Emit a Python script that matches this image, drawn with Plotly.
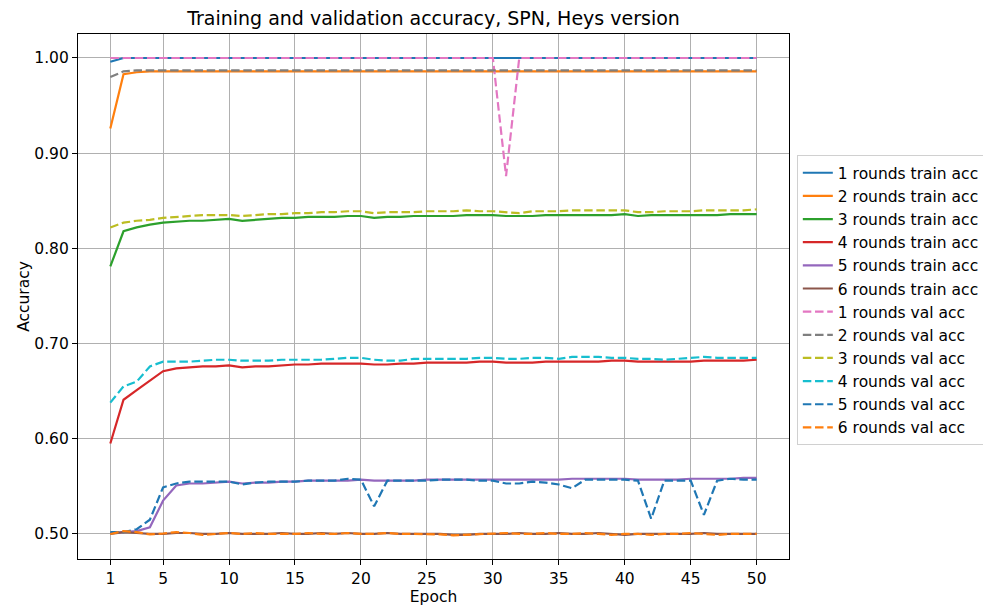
import plotly.graph_objects as go

epochs = list(range(1, 51))

train_1 = [0.996] + [1.000, 1.000, 1.000, 1.000, 1.000, 1.000, 1.000, 1.000, 1.000, 1.000,
                     1.000, 1.000, 1.000, 1.000, 1.000, 1.000, 1.000, 1.000, 1.000, 1.000,
                     1.000, 1.000, 1.000, 1.000, 1.000, 1.000, 1.000, 1.000, 1.000, 1.000,
                     1.000, 1.000, 1.000, 1.000, 1.000, 1.000, 1.000, 1.000, 1.000, 1.000,
                     1.000, 1.000, 1.000, 1.000, 1.000, 1.000, 1.000, 1.000, 1.000]
train_2 = [0.926, 0.983, 0.985, 0.986, 0.986, 0.986, 0.986, 0.986, 0.986, 0.986,
           0.986, 0.986, 0.986, 0.986, 0.986, 0.986, 0.986, 0.986, 0.986, 0.986,
           0.986, 0.986, 0.986, 0.986, 0.986, 0.986, 0.986, 0.986, 0.986, 0.986,
           0.986, 0.986, 0.986, 0.986, 0.986, 0.986, 0.986, 0.986, 0.986, 0.986,
           0.986, 0.986, 0.986, 0.986, 0.986, 0.986, 0.986, 0.986, 0.986, 0.986]
train_3 = [0.781, 0.818, 0.822, 0.825, 0.827, 0.828, 0.829, 0.829, 0.830, 0.831,
           0.829, 0.830, 0.831, 0.832, 0.832, 0.833, 0.833, 0.833, 0.834, 0.834,
           0.832, 0.833, 0.833, 0.834, 0.834, 0.834, 0.834, 0.835, 0.835, 0.835,
           0.834, 0.834, 0.834, 0.835, 0.835, 0.835, 0.835, 0.835, 0.835, 0.836,
           0.834, 0.835, 0.835, 0.835, 0.835, 0.835, 0.835, 0.836, 0.836, 0.836]
train_4 = [0.595, 0.641, 0.651, 0.661, 0.671, 0.674, 0.675, 0.676, 0.676, 0.677,
           0.675, 0.676, 0.676, 0.677, 0.678, 0.678, 0.679, 0.679, 0.679, 0.679,
           0.678, 0.678, 0.679, 0.679, 0.680, 0.680, 0.680, 0.680, 0.681, 0.681,
           0.680, 0.680, 0.680, 0.681, 0.681, 0.681, 0.681, 0.681, 0.682, 0.682,
           0.681, 0.681, 0.681, 0.681, 0.681, 0.682, 0.682, 0.682, 0.682, 0.683]
train_5 = [0.501, 0.502, 0.503, 0.507, 0.535, 0.551, 0.553, 0.553, 0.554, 0.555,
           0.553, 0.554, 0.554, 0.555, 0.555, 0.556, 0.556, 0.556, 0.556, 0.557,
           0.556, 0.556, 0.556, 0.556, 0.557, 0.557, 0.557, 0.557, 0.557, 0.557,
           0.557, 0.557, 0.557, 0.557, 0.557, 0.558, 0.558, 0.558, 0.558, 0.558,
           0.557, 0.557, 0.557, 0.557, 0.558, 0.558, 0.558, 0.558, 0.559, 0.559]
train_6 = [0.500, 0.502, 0.501, 0.500, 0.500, 0.501, 0.501, 0.500, 0.500, 0.501,
           0.500, 0.500, 0.500, 0.501, 0.500, 0.500, 0.501, 0.500, 0.501, 0.500,
           0.500, 0.501, 0.500, 0.500, 0.500, 0.500, 0.499, 0.499, 0.500, 0.500,
           0.500, 0.501, 0.500, 0.500, 0.501, 0.500, 0.500, 0.501, 0.500, 0.499,
           0.500, 0.500, 0.500, 0.500, 0.500, 0.501, 0.500, 0.500, 0.500, 0.500]

val_1 = [1.000, 1.000, 1.000, 1.000, 1.000, 1.000, 1.000, 1.000, 1.000, 1.000,
         1.000, 1.000, 1.000, 1.000, 1.000, 1.000, 1.000, 1.000, 1.000, 1.000,
         1.000, 1.000, 1.000, 1.000, 1.000, 1.000, 1.000, 1.000, 1.000, 1.000,
         0.876, 1.000, 1.000, 1.000, 1.000, 1.000, 1.000, 1.000, 1.000, 1.000,
         1.000, 1.000, 1.000, 1.000, 1.000, 1.000, 1.000, 1.000, 1.000, 1.000]
val_2 = [0.980, 0.986, 0.987, 0.987, 0.987, 0.987, 0.987, 0.987, 0.987, 0.987,
         0.987, 0.987, 0.987, 0.987, 0.987, 0.987, 0.987, 0.987, 0.987, 0.987,
         0.987, 0.987, 0.987, 0.987, 0.987, 0.987, 0.987, 0.987, 0.987, 0.987,
         0.987, 0.987, 0.987, 0.987, 0.987, 0.987, 0.987, 0.987, 0.987, 0.987,
         0.987, 0.987, 0.987, 0.987, 0.987, 0.987, 0.987, 0.987, 0.987, 0.987]
val_3 = [0.822, 0.827, 0.829, 0.830, 0.832, 0.833, 0.834, 0.835, 0.835, 0.835,
         0.834, 0.835, 0.836, 0.836, 0.837, 0.837, 0.838, 0.838, 0.839, 0.839,
         0.837, 0.838, 0.838, 0.838, 0.839, 0.839, 0.839, 0.840, 0.839, 0.839,
         0.838, 0.837, 0.839, 0.839, 0.839, 0.840, 0.840, 0.840, 0.840, 0.840,
         0.838, 0.838, 0.839, 0.839, 0.839, 0.840, 0.840, 0.840, 0.840, 0.841]
val_4 = [0.638, 0.655, 0.660, 0.676, 0.681, 0.681, 0.681, 0.682, 0.683, 0.683,
         0.682, 0.682, 0.682, 0.683, 0.683, 0.683, 0.683, 0.684, 0.685, 0.685,
         0.683, 0.682, 0.682, 0.684, 0.684, 0.684, 0.684, 0.684, 0.685, 0.685,
         0.684, 0.684, 0.685, 0.685, 0.684, 0.686, 0.686, 0.686, 0.685, 0.685,
         0.684, 0.684, 0.683, 0.684, 0.685, 0.686, 0.685, 0.685, 0.685, 0.685]
val_5 = [0.502, 0.502, 0.505, 0.515, 0.549, 0.553, 0.555, 0.555, 0.555, 0.555,
         0.552, 0.554, 0.555, 0.555, 0.555, 0.556, 0.556, 0.556, 0.558, 0.557,
         0.529, 0.556, 0.556, 0.556, 0.556, 0.557, 0.557, 0.557, 0.556, 0.556,
         0.553, 0.553, 0.555, 0.554, 0.552, 0.548, 0.557, 0.557, 0.557, 0.557,
         0.556, 0.516, 0.556, 0.556, 0.556, 0.520, 0.556, 0.558, 0.557, 0.557]
val_6 = [0.500, 0.503, 0.502, 0.4995, 0.5005, 0.502, 0.501, 0.499, 0.500, 0.501,
         0.500, 0.501, 0.500, 0.500, 0.500, 0.501, 0.500, 0.500, 0.501, 0.500,
         0.500, 0.501, 0.500, 0.500, 0.500, 0.4995, 0.4985, 0.499, 0.500, 0.500,
         0.501, 0.500, 0.500, 0.501, 0.500, 0.500, 0.501, 0.500, 0.499, 0.500,
         0.500, 0.499, 0.500, 0.500, 0.501, 0.500, 0.499, 0.500, 0.500, 0.500]

train_series = [train_1, train_2, train_3, train_4, train_5, train_6]
val_series = [val_1, val_2, val_3, val_4, val_5, val_6]
train_names = [f"{i} rounds train acc" for i in range(1, 7)]
val_names = [f"{i} rounds val acc" for i in range(1, 7)]

train_colors = ["#1f77b4", "#ff7f0e", "#2ca02c", "#d62728", "#9467bd", "#8c564b"]
val_colors = ["#e377c2", "#7f7f7f", "#bcbd22", "#17becf", "#1f77b4", "#ff7f0e"]

x_ticks = [1, 5, 10, 15, 20, 25, 30, 35, 40, 45, 50]
y_ticks = [0.5, 0.6, 0.7, 0.8, 0.9, 1.0]

FONT = "DejaVu Sans"
LW = 2.2

fig = go.Figure()
for ys, name, c in zip(train_series, train_names, train_colors):
    fig.add_trace(go.Scatter(x=epochs, y=ys, name=name, mode="lines",
                             line=dict(color=c, width=LW)))
for ys, name, c in zip(val_series, val_names, val_colors):
    fig.add_trace(go.Scatter(x=epochs, y=ys, name=name, mode="lines",
                             line=dict(color=c, width=LW, dash="8.5px,3.7px")))

axis_common = dict(showline=True, linecolor="black", linewidth=1.2, mirror=True,
                   showgrid=True, gridcolor="#b0b0b0", gridwidth=1.1,
                   ticks="outside", ticklen=5, tickcolor="black", tickwidth=1.1,
                   tickfont=dict(family=FONT, size=15.5, color="black"),
                   zeroline=False)

# page body adds an 8px offset; margins compensate
L, R, T, B = 70, 210, 26, 57
fig.update_layout(
    width=991, height=608,
    paper_bgcolor="white", plot_bgcolor="white",
    margin=dict(l=L, r=R, t=T, b=B),
    title=dict(text="Training and validation accuracy, SPN, Heys version",
               x=(L + 991 - R) / 2 / 991, xanchor="center", y=1 - 10 / 608, yanchor="middle",
               font=dict(family=FONT, size=19, color="black")),
    xaxis=dict(range=[-1.45, 52.45], tickvals=x_ticks,
               title=dict(text="Epoch", font=dict(family=FONT, size=15.5, color="black"), standoff=2),
               **axis_common),
    yaxis=dict(range=[0.4737, 1.0252], tickvals=y_ticks, tickformat=".2f",
               title=dict(text="Accuracy", font=dict(family=FONT, size=15.5, color="black"), standoff=0),
               **axis_common),
    legend=dict(x=1.011, xanchor="left", y=0.493, yanchor="middle",
                bordercolor="#d0d0d0", borderwidth=1, bgcolor="white",
                font=dict(family=FONT, size=15.5, color="black"),
                tracegroupgap=0, itemwidth=30),
    showlegend=True,
)

fig.write_html("out.html")
